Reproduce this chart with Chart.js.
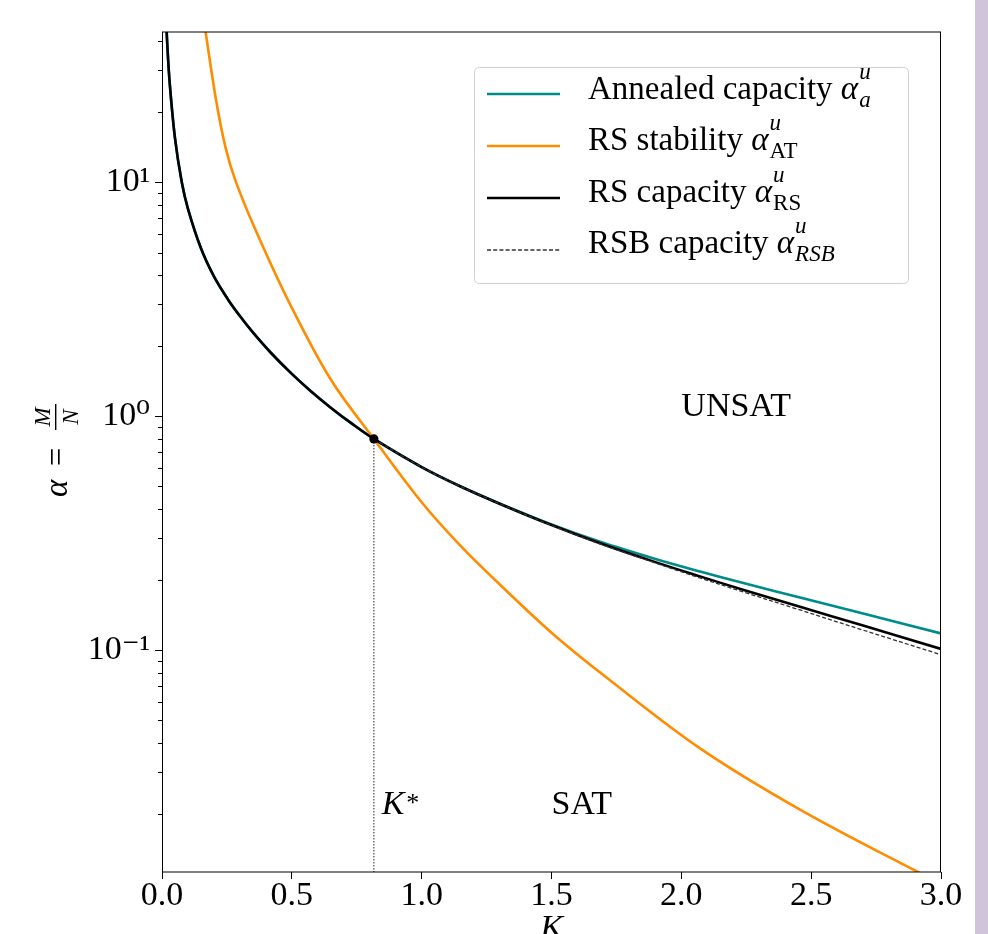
<!DOCTYPE html>
<html><head><meta charset="utf-8">
<script src="https://cdn.jsdelivr.net/npm/chart.js@4.4.1/dist/chart.umd.min.js"></script>
<style>
html,body{margin:0;padding:0;background:#fff;overflow:hidden}
#wrap{position:relative;width:988px;height:934px;background:#fff}
#strip{position:absolute;left:975px;top:0;width:13px;height:934px;background:#cfc4da}
canvas{position:absolute;left:0;top:0}
</style></head><body>
<div id="wrap"><canvas id="c" width="988" height="934"></canvas><div id="strip"></div></div>
<script>
// ---- data ----
const K_RS      = [0.015,0.02,0.03,0.05,0.076,0.1,0.15,0.2,0.254,0.3,0.35,0.42,0.5,0.57,0.65,0.73,0.816,1.0,1.148,1.302,1.5,1.687,1.9,2.072,2.25,2.457,2.7,3.0];
const ALPHA_RS  = [52.7,39.4,26.2,15.4,10.0,7.68,5.21,3.95,3.15,2.675,2.277,1.86,1.514,1.287,1.086,0.930,0.798,0.605,0.501,0.421,0.342,0.286,0.2375,0.2064,0.1792,0.1531,0.1272,0.1011];
const K_AN      = [0.015,0.02,0.03,0.05,0.076,0.1,0.15,0.2,0.254,0.3,0.35,0.42,0.5,0.57,0.65,0.73,0.816,1.0,1.148,1.302,1.5,1.687,1.9,2.072,2.25,2.457,2.7,3.0];
const ALPHA_AN  = [52.7,39.4,26.2,15.4,10.0,7.68,5.21,3.95,3.15,2.675,2.277,1.86,1.514,1.287,1.086,0.930,0.798,0.605,0.501,0.422,0.344,0.290,0.245,0.2166,0.192,0.1676,0.1431,0.1177];
const K_AT      = [0.16,0.168,0.208,0.245,0.285,0.365,0.489,0.65,0.816,1.0,1.148,1.302,1.5,1.713,2.072,2.457,2.911,3.0];
const ALPHA_AT  = [50.9,43.8,22.5,14.0,10.0,6.07,3.07,1.432,0.798,0.428,0.28,0.19,0.1186,0.0761,0.038,0.0208,0.01125,0.0101];
const K_RSB     = [0.816,1.0,1.148,1.302,1.5,1.687,1.9,2.072,2.25,2.457,2.7,3.0];
const ALPHA_RSB = [0.798,0.605,0.501,0.421,0.341,0.284,0.2355,0.2032,0.1754,0.1483,0.1216,0.0955];
const K_STAR    = [0.816];
const ALPHA_STAR= [0.798];
const K_VLINE   = [0.816,0.816];
const ALPHA_VLINE = [0.798,0.01];

const X_TICKS = [0,0.5,1,1.5,2,2.5,3];
const X_TICK_LABELS = ['0.0','0.5','1.0','1.5','2.0','2.5','3.0'];
const Y_TICKS = [0.1,1,10];
const Y_TICK_LABELS = ['10\u207B\u00B9','10\u2070','10\u00B9'];
const Y_MINOR = [2,3,4,5,6,7,8,9].flatMap(m=>[m*0.01,m*0.1,m,m*10]).filter(v=>v<=43.8 && v>=0.01125);

const LEGEND_LABELS = ['Annealed capacity','RS stability','RS capacity','RSB capacity'];
const LEGEND_SUBS   = ['a','AT','RS','RSB'];
const LEGEND_SUB_ITALIC = [true,false,false,true];

const FONT = '"Liberation Serif","DejaVu Serif",serif';
const TEAL = '#008b8b', ORANGE = '#ff8c00';

function series(label, K, A, color, width, dash, order){
  return {label, data:K.map((k,i)=>({x:k,y:A[i]})), borderColor:color, backgroundColor:color,
    borderWidth:width, borderDash:dash||[], pointRadius:0, fill:false, tension:0.35, order};
}

const datasets = [
  series('Annealed capacity', K_AN, ALPHA_AN, TEAL, 2.6, null, 4),
  series('RS stability', K_AT, ALPHA_AT, ORANGE, 2.6, null, 3),
  series('RS capacity', K_RS, ALPHA_RS, '#000', 2.6, null, 2),
  series('RSB capacity', K_RSB, ALPHA_RSB, '#333', 1.3, [4,2.2], 1),
  Object.assign(series('K*', K_VLINE, ALPHA_VLINE, '#222', 1, [1.5,1.5], 0), {tension:0}),
  {label:'star', data:K_STAR.map((k,i)=>({x:k,y:ALPHA_STAR[i]})), showLine:false, pointRadius:4.6,
   pointBackgroundColor:'#000', pointBorderColor:'#000', borderWidth:0, order:-1}
];

function roundRectPath(ctx,x,y,w,h,r){
  ctx.beginPath();
  ctx.moveTo(x+r,y); ctx.lineTo(x+w-r,y); ctx.quadraticCurveTo(x+w,y,x+w,y+r);
  ctx.lineTo(x+w,y+h-r); ctx.quadraticCurveTo(x+w,y+h,x+w-r,y+h);
  ctx.lineTo(x+r,y+h); ctx.quadraticCurveTo(x,y+h,x,y+h-r);
  ctx.lineTo(x,y+r); ctx.quadraticCurveTo(x,y,x+r,y); ctx.closePath();
}

const decor = {
  id:'decor',
  afterDatasetsDraw(chart){
    const {ctx, chartArea:a} = chart;
    ctx.save();
    ctx.strokeStyle='#000';
    ctx.lineWidth=1;
    ctx.beginPath();
    ctx.moveTo(a.left+0.5,a.top); ctx.lineTo(a.left+0.5,a.bottom);
    ctx.moveTo(a.right-0.5,a.top); ctx.lineTo(a.right-0.5,a.bottom);
    ctx.stroke();
    ctx.lineWidth=1.1;
    ctx.beginPath();
    ctx.moveTo(a.left,a.top); ctx.lineTo(a.right,a.top);
    ctx.moveTo(a.left,a.bottom); ctx.lineTo(a.right,a.bottom);
    ctx.stroke();
    ctx.restore();
  },
  afterDraw(chart){
    const {ctx, chartArea:a, scales:{x,y}} = chart;
    ctx.save();
    // minor y ticks
    ctx.strokeStyle='#000'; ctx.lineWidth=1;
    ctx.beginPath();
    Y_MINOR.forEach(v=>{
      const py=Math.round(y.getPixelForValue(v))+0.5;
      ctx.moveTo(a.left-4,py); ctx.lineTo(a.left,py);
    });
    ctx.stroke();

    // region labels
    ctx.fillStyle='#000'; ctx.textAlign='left'; ctx.textBaseline='alphabetic';
    ctx.font='34px '+FONT;
    ctx.fillText('UNSAT', x.getPixelForValue(2.0), y.getPixelForValue(1.0));
    ctx.fillText('SAT', x.getPixelForValue(1.5), y.getPixelForValue(0.02));
    const kx = x.getPixelForValue(0.846), ky = y.getPixelForValue(0.02);
    ctx.font='italic 34px '+FONT;
    ctx.fillText('K', kx, ky);
    const kw = ctx.measureText('K').width;
    ctx.font='26px '+FONT;
    ctx.fillText('*', kx+kw+2, ky-3);

    // x axis title
    ctx.font='italic 34px '+FONT; ctx.textAlign='center';
    ctx.fillText('K', (a.left+a.right)/2, 938);

    // y axis title (rotated)
    ctx.save();
    ctx.translate(67,450); ctx.rotate(-Math.PI/2);
    ctx.textAlign='left';
    ctx.font='italic 33px '+FONT;
    ctx.fillText('\u03B1', -47, 0);
    ctx.font='33px '+FONT; ctx.textAlign='center';
    ctx.fillText('=', -7, 0);
    ctx.font='italic 23px '+FONT;
    ctx.fillText('M', 33, -17);
    ctx.fillText('N', 33, 11);
    ctx.fillRect(20, -12, 26, 1.4);
    ctx.restore();

    // legend
    const lx=474.5, ly=67.5, lw=434, lh=216;
    roundRectPath(ctx,lx,ly,lw,lh,5);
    ctx.fillStyle='rgba(255,255,255,0.85)'; ctx.fill();
    ctx.strokeStyle='#d0d0d0'; ctx.lineWidth=1; ctx.stroke();
    const lineY=[94,146,198,250], baseY=[99,150,202,253];
    [0,1,2,3].forEach((di,i)=>{
      const d=chart.data.datasets[di];
      ctx.save();
      ctx.strokeStyle=d.borderColor; ctx.lineWidth=d.borderWidth; ctx.setLineDash(d.borderDash||[]);
      ctx.beginPath(); ctx.moveTo(487,lineY[i]); ctx.lineTo(560,lineY[i]); ctx.stroke();
      ctx.restore();
      ctx.fillStyle='#000'; ctx.textAlign='left';
      ctx.font='33px '+FONT;
      let tx=588;
      ctx.fillText(LEGEND_LABELS[i], tx, baseY[i]);
      tx += ctx.measureText(LEGEND_LABELS[i]+' ').width;
      ctx.font='italic 33px '+FONT;
      ctx.fillText('\u03B1', tx, baseY[i]);
      tx += ctx.measureText('\u03B1').width + 1;
      ctx.font='italic 23px '+FONT;
      ctx.fillText('u', tx, baseY[i]-20);
      ctx.font=(LEGEND_SUB_ITALIC[i]?'italic ':'')+'23px '+FONT;
      ctx.fillText(LEGEND_SUBS[i], tx, baseY[i]+8);
    });
    ctx.restore();
  }
};

function build(){
  new Chart(document.getElementById('c'), {
    type:'line',
    data:{datasets},
    options:{
      responsive:false, animation:false, devicePixelRatio:1, events:[],
      layout:{padding:{top:32,right:47,left:0,bottom:0}},
      plugins:{legend:{display:false}, tooltip:{enabled:false}},
      scales:{
        x:{type:'linear', min:0, max:3, position:'bottom',
          afterFit(s){s.height=62;},
          afterBuildTicks(s){s.ticks=X_TICKS.map(v=>({value:v}));},
          ticks:{callback:(v)=>{const i=X_TICKS.indexOf(v);return i>=0?X_TICK_LABELS[i]:'';},
            font:{family:FONT,size:34}, color:'#000', padding:-3, maxRotation:0, autoSkip:false},
          grid:{drawOnChartArea:false, tickLength:7, tickColor:'#000', tickWidth:1},
          border:{display:false}},
        y:{type:'logarithmic', min:0.01125, max:43.8,
          afterFit(s){s.width=162;},
          afterBuildTicks(s){s.ticks=Y_TICKS.map(v=>({value:v}));},
          ticks:{callback:(v)=>{const i=Y_TICKS.indexOf(v);return i>=0?Y_TICK_LABELS[i]:'';},
            font:{family:FONT,size:34}, color:'#000', padding:5, autoSkip:false},
          grid:{drawOnChartArea:false, tickLength:7, tickColor:'#000', tickWidth:1},
          border:{display:false}}
      }
    },
    plugins:[decor]
  });
}
const fl = document.fonts ? Promise.all([
  document.fonts.load('34px "Liberation Serif"'),
  document.fonts.load('italic 34px "Liberation Serif"')
]).catch(()=>{}) : Promise.resolve();
Promise.race([fl, new Promise(r=>setTimeout(r,800))]).then(build);
</script>
</body></html>
